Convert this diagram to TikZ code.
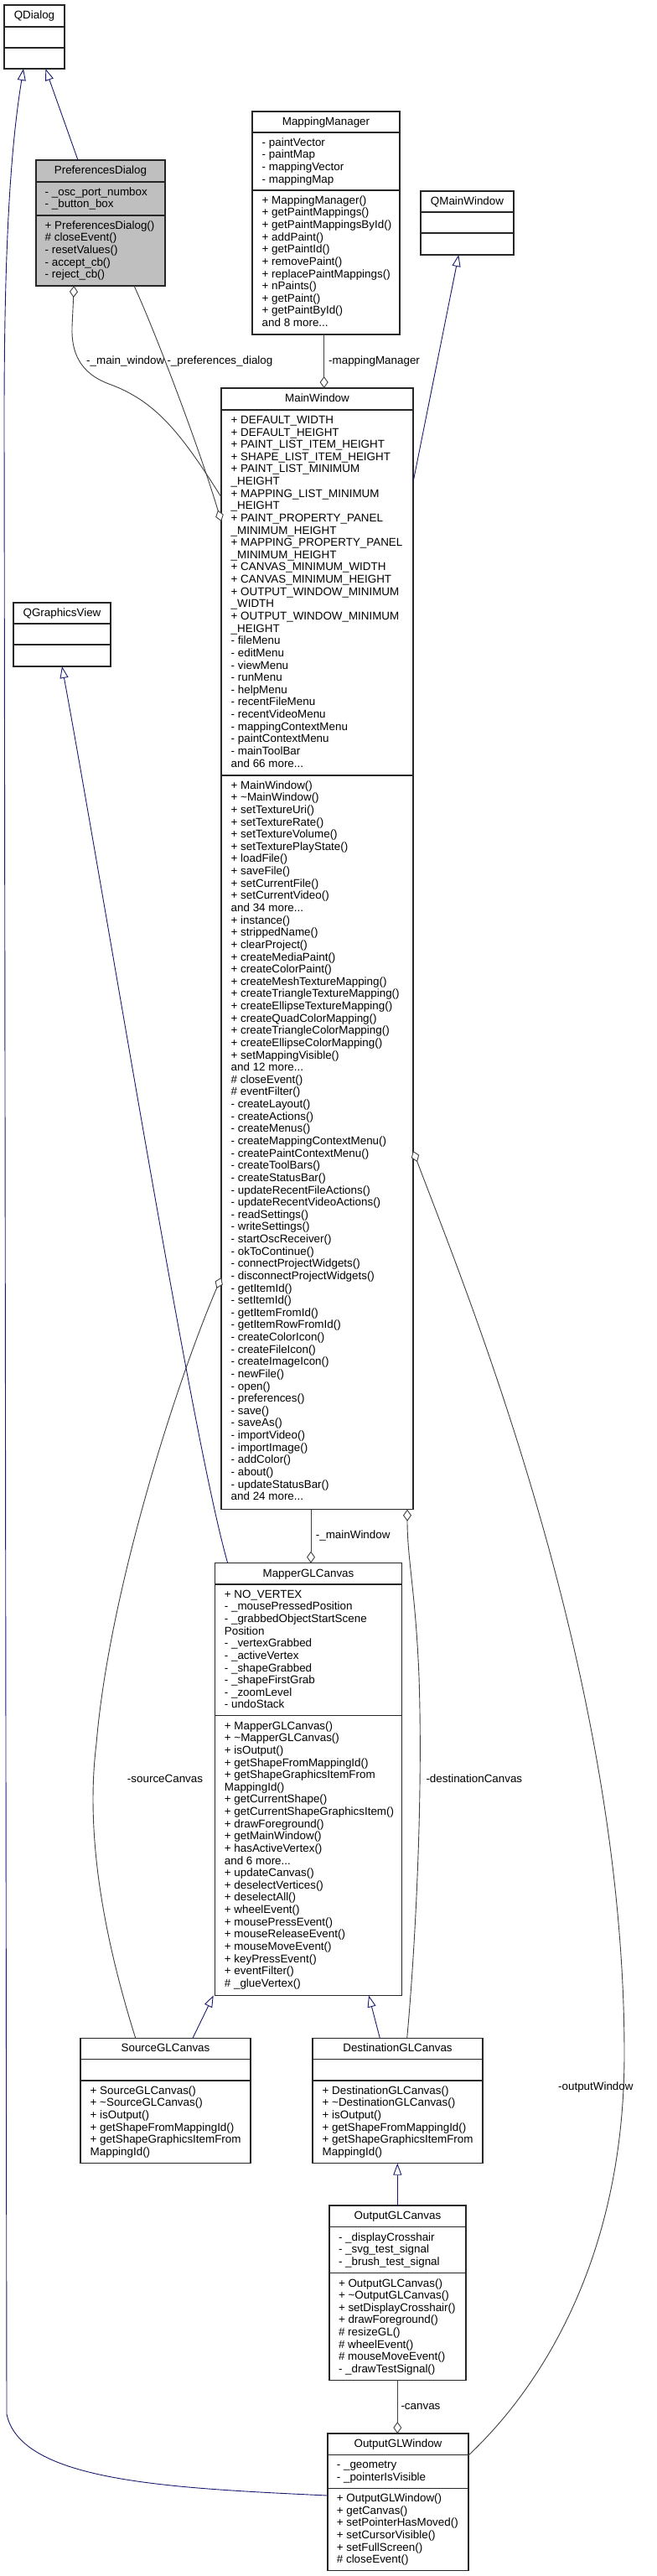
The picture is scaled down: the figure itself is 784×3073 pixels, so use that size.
\documentclass[tikz,border=0pt]{standalone}
\usepackage{fontspec}
\setmainfont{Liberation Sans}
\usetikzlibrary{arrows.meta,calc}
\definecolor{inhblue}{HTML}{191970}
\definecolor{agggray}{HTML}{404040}
\definecolor{boxgray}{HTML}{BFBFBF}
\definecolor{boxline}{HTML}{262626}
\newcommand\fs{\fontsize{13.4}{14.63}\selectfont}
\newcommand\lns[1]{\begin{tabular}[t]{@{}l@{}}#1\end{tabular}}
\newcommand\tl{\textasciitilde}
\tikzset{
  cls/.style={draw=boxline, line width=1.1pt, inner sep=0pt, outer sep=0pt, anchor=north west, fill=white},
  sepl/.style={draw=boxline, line width=1.1pt},
  ttl/.style={anchor=base, inner sep=0pt, font=\fs},
  txt/.style={anchor=base west, inner sep=0pt, font=\fs},
  lbl/.style={anchor=west, inner sep=0pt, font=\fs},
  lblr/.style={anchor=east, inner sep=0pt, font=\fs},
  inh/.style={draw=inhblue, line width=0.9pt, -{Triangle[length=14pt,width=10pt,fill=white,line width=0.9pt]}},
  agg/.style={draw=agggray, line width=0.9pt, -{Diamond[length=14pt,width=10pt,fill=white,line width=0.9pt]}},
}
\begin{document}
\begin{tikzpicture}[x=1pt,y=-1pt]
\useasboundingbox (0,0) rectangle (784,3073);

% ---------- QDialog
\node[cls, minimum width=72pt, minimum height=76pt] (qd) at (5,6) {};
\draw[sepl] ($(qd.north west)+(0,26)$) -- ($(qd.north east)+(0,26)$);
\draw[sepl] ($(qd.north west)+(0,51)$) -- ($(qd.north east)+(0,51)$);
\node[ttl] (qd-t) at ($(qd.north)+(0,16.5)$) {QDialog};

% ---------- PreferencesDialog
\node[cls, fill=boxgray, minimum width=154pt, minimum height=150pt] (pd) at (43,191) {};
\draw[sepl] ($(pd.north west)+(0,26)$) -- ($(pd.north east)+(0,26)$);
\draw[sepl] ($(pd.north west)+(0,66)$) -- ($(pd.north east)+(0,66)$);
\node[ttl] (pd-t) at ($(pd.north)+(0,16.5)$) {PreferencesDialog};
\node[txt] (pd-a) at ($(pd.north west)+(10.5,42.3)$) {\lns{- \_osc\_port\_numbox\\- \_button\_box}};
\node[txt] (pd-m) at ($(pd.north west)+(10.5,82.3)$) {\lns{+ PreferencesDialog()\\\# closeEvent()\\- resetValues()\\- accept\_cb()\\- reject\_cb()}};

% ---------- MappingManager
\node[cls, minimum width=176pt, minimum height=266pt] (mm) at (301,133) {};
\draw[sepl] ($(mm.north west)+(0,25)$) -- ($(mm.north east)+(0,25)$);
\draw[sepl] ($(mm.north west)+(0,94)$) -- ($(mm.north east)+(0,94)$);
\node[ttl] (mm-t) at ($(mm.north)+(0,16.4)$) {MappingManager};
\node[txt] (mm-a) at ($(mm.north west)+(11.5,41.3)$) {\lns{- paintVector\\- paintMap\\- mappingVector\\- mappingMap}};
\node[txt] (mm-m) at ($(mm.north west)+(11.5,110.3)$) {\lns{+ MappingManager()\\+ getPaintMappings()\\+ getPaintMappingsById()\\+ addPaint()\\+ getPaintId()\\+ removePaint()\\+ replacePaintMappings()\\+ nPaints()\\+ getPaint()\\+ getPaintById()\\and 8 more...}};

% ---------- QMainWindow
\node[cls, minimum width=111pt, minimum height=76pt] (qmw) at (502,228) {};
\draw[sepl] ($(qmw.north west)+(0,25)$) -- ($(qmw.north east)+(0,25)$);
\draw[sepl] ($(qmw.north west)+(0,50)$) -- ($(qmw.north east)+(0,50)$);
\node[ttl] (qmw-t) at ($(qmw.north)+(0,16.4)$) {QMainWindow};

% ---------- QGraphicsView
\node[cls, minimum width=116pt, minimum height=76pt] (qgv) at (16,719) {};
\draw[sepl] ($(qgv.north west)+(0,25)$) -- ($(qgv.north east)+(0,25)$);
\draw[sepl] ($(qgv.north west)+(0,50)$) -- ($(qgv.north east)+(0,50)$);
\node[ttl] (qgv-t) at ($(qgv.north)+(0,16.4)$) {QGraphicsView};

% ---------- MainWindow
\node[cls, minimum width=229pt, minimum height=1337.7pt] (mw) at (264,463) {};
\draw[sepl] ($(mw.north west)+(0,26)$) -- ($(mw.north east)+(0,26)$);
\draw[sepl] ($(mw.north west)+(0,462)$) -- ($(mw.north east)+(0,462)$);
\node[ttl] (mw-t) at ($(mw.north)+(0,16.2)$) {MainWindow};
\node[txt] (mw-a) at ($(mw.north west)+(11.5,42.4)$) {\lns{%
+ DEFAULT\_WIDTH\\+ DEFAULT\_HEIGHT\\+ PAINT\_LIST\_ITEM\_HEIGHT\\+ SHAPE\_LIST\_ITEM\_HEIGHT\\%
+ PAINT\_LIST\_MINIMUM\\\_HEIGHT\\+ MAPPING\_LIST\_MINIMUM\\\_HEIGHT\\%
+ PAINT\_PROPERTY\_PANEL\\\_MINIMUM\_HEIGHT\\+ MAPPING\_PROPERTY\_PANEL\\\_MINIMUM\_HEIGHT\\%
+ CANVAS\_MINIMUM\_WIDTH\\+ CANVAS\_MINIMUM\_HEIGHT\\+ OUTPUT\_WINDOW\_MINIMUM\\\_WIDTH\\%
+ OUTPUT\_WINDOW\_MINIMUM\\\_HEIGHT\\- fileMenu\\- editMenu\\- viewMenu\\- runMenu\\- helpMenu\\%
- recentFileMenu\\- recentVideoMenu\\- mappingContextMenu\\- paintContextMenu\\- mainToolBar\\and 66 more...}};
\node[txt] (mw-m) at ($(mw.north west)+(11.5,478.2)$) {\lns{%
+ MainWindow()\\+ \tl MainWindow()\\+ setTextureUri()\\+ setTextureRate()\\+ setTextureVolume()\\%
+ setTexturePlayState()\\+ loadFile()\\+ saveFile()\\+ setCurrentFile()\\+ setCurrentVideo()\\and 34 more...\\%
+ instance()\\+ strippedName()\\+ clearProject()\\+ createMediaPaint()\\+ createColorPaint()\\%
+ createMeshTextureMapping()\\+ createTriangleTextureMapping()\\+ createEllipseTextureMapping()\\%
+ createQuadColorMapping()\\+ createTriangleColorMapping()\\+ createEllipseColorMapping()\\%
+ setMappingVisible()\\and 12 more...\\\# closeEvent()\\\# eventFilter()\\- createLayout()\\%
- createActions()\\- createMenus()\\- createMappingContextMenu()\\- createPaintContextMenu()\\%
- createToolBars()\\- createStatusBar()\\- updateRecentFileActions()\\- updateRecentVideoActions()\\%
- readSettings()\\- writeSettings()\\- startOscReceiver()\\- okToContinue()\\- connectProjectWidgets()\\%
- disconnectProjectWidgets()\\- getItemId()\\- setItemId()\\- getItemFromId()\\- getItemRowFromId()\\%
- createColorIcon()\\- createFileIcon()\\- createImageIcon()\\- newFile()\\- open()\\- preferences()\\%
- save()\\- saveAs()\\- importVideo()\\- importImage()\\- addColor()\\- about()\\- updateStatusBar()\\and 24 more...}};

% ---------- MapperGLCanvas
\node[cls, minimum width=222.6pt, minimum height=515.8pt] (mgc) at (256.7,1864.6) {};
\draw[sepl] ($(mgc.north west)+(0,25.4)$) -- ($(mgc.north east)+(0,25.4)$);
\draw[sepl] ($(mgc.north west)+(0,182.2)$) -- ($(mgc.north east)+(0,182.2)$);
\node[ttl] (mgc-t) at ($(mgc.north)+(0,16.6)$) {MapperGLCanvas};
\node[txt] (mgc-a) at ($(mgc.north west)+(11,41.7)$) {\lns{%
+ NO\_VERTEX\\- \_mousePressedPosition\\- \_grabbedObjectStartScene\\Position\\- \_vertexGrabbed\\%
- \_activeVertex\\- \_shapeGrabbed\\- \_shapeFirstGrab\\- \_zoomLevel\\- undoStack}};
\node[txt] (mgc-m) at ($(mgc.north west)+(11,198.5)$) {\lns{%
+ MapperGLCanvas()\\+ \tl MapperGLCanvas()\\+ isOutput()\\+ getShapeFromMappingId()\\%
+ getShapeGraphicsItemFrom\\MappingId()\\+ getCurrentShape()\\+ getCurrentShapeGraphicsItem()\\%
+ drawForeground()\\+ getMainWindow()\\+ hasActiveVertex()\\and 6 more...\\+ updateCanvas()\\%
+ deselectVertices()\\+ deselectAll()\\+ wheelEvent()\\+ mousePressEvent()\\+ mouseReleaseEvent()\\%
+ mouseMoveEvent()\\+ keyPressEvent()\\+ eventFilter()\\\# \_glueVertex()}};

% ---------- SourceGLCanvas
\node[cls, minimum width=203pt, minimum height=149.4pt] (sgc) at (96,2431.3) {};
\draw[sepl] ($(sgc.north west)+(0,25.4)$) -- ($(sgc.north east)+(0,25.4)$);
\draw[sepl] ($(sgc.north west)+(0,50.7)$) -- ($(sgc.north east)+(0,50.7)$);
\node[ttl] (sgc-t) at ($(sgc.north)+(0,16.4)$) {SourceGLCanvas};
\node[txt] (sgc-m) at ($(sgc.north west)+(11.5,67)$) {\lns{%
+ SourceGLCanvas()\\+ \tl SourceGLCanvas()\\+ isOutput()\\+ getShapeFromMappingId()\\%
+ getShapeGraphicsItemFrom\\MappingId()}};

% ---------- DestinationGLCanvas
\node[cls, minimum width=203pt, minimum height=149.4pt] (dgc) at (373,2431.3) {};
\draw[sepl] ($(dgc.north west)+(0,25.4)$) -- ($(dgc.north east)+(0,25.4)$);
\draw[sepl] ($(dgc.north west)+(0,50.7)$) -- ($(dgc.north east)+(0,50.7)$);
\node[ttl] (dgc-t) at ($(dgc.north)+(0,16.4)$) {DestinationGLCanvas};
\node[txt] (dgc-m) at ($(dgc.north west)+(11.5,67)$) {\lns{%
+ DestinationGLCanvas()\\+ \tl DestinationGLCanvas()\\+ isOutput()\\+ getShapeFromMappingId()\\%
+ getShapeGraphicsItemFrom\\MappingId()}};

% ---------- OutputGLCanvas
\node[cls, minimum width=163pt, minimum height=208.3pt] (ogc) at (393,2631) {};
\draw[sepl] ($(ogc.north west)+(0,25.7)$) -- ($(ogc.north east)+(0,25.7)$);
\draw[sepl] ($(ogc.north west)+(0,80.7)$) -- ($(ogc.north east)+(0,80.7)$);
\node[ttl] (ogc-t) at ($(ogc.north)+(0,16.4)$) {OutputGLCanvas};
\node[txt] (ogc-a) at ($(ogc.north west)+(10.8,42)$) {\lns{- \_displayCrosshair\\- \_svg\_test\_signal\\- \_brush\_test\_signal}};
\node[txt] (ogc-m) at ($(ogc.north west)+(10.8,97)$) {\lns{%
+ OutputGLCanvas()\\+ \tl OutputGLCanvas()\\+ setDisplayCrosshair()\\+ drawForeground()\\%
\# resizeGL()\\\# wheelEvent()\\\# mouseMoveEvent()\\- \_drawTestSignal()}};

% ---------- OutputGLWindow
\node[cls, minimum width=168pt, minimum height=163.7pt] (ow) at (391,2903) {};
\draw[sepl] ($(ow.north west)+(0,25.3)$) -- ($(ow.north east)+(0,25.3)$);
\draw[sepl] ($(ow.north west)+(0,65.3)$) -- ($(ow.north east)+(0,65.3)$);
\node[ttl] (ow-t) at ($(ow.north)+(0,16.4)$) {OutputGLWindow};
\node[txt] (ow-a) at ($(ow.north west)+(10.7,41.6)$) {\lns{- \_geometry\\- \_pointerIsVisible}};
\node[txt] (ow-m) at ($(ow.north west)+(10.7,81.6)$) {\lns{%
+ OutputGLWindow()\\+ getCanvas()\\+ setPointerHasMoved()\\+ setCursorVisible()\\+ setFullScreen()\\\# closeEvent()}};

% ================= connectors
% inheritance
\draw[inh] ($(pd.north west)+(50,0)$) -- ($(qd.south west)+(49.3,0)$);
\draw[inh] ($(ow.north west)+(0,74)$) .. controls (200,2968) and (25,2960) .. (8,2880)
   -- (5,500) .. controls (5,300) and (12,180) .. ($(qd.south west)+(23,0)$);
\draw[inh] ($(mw.north east)+(0,112)$) -- ($(qmw.south west)+(45.3,0)$);
\draw[inh] ($(mgc.north west)+(15,0)$) .. controls (230,1720) and (130,1100) .. ($(qgv.south west)+(58,0)$);
\draw[inh] ($(sgc.north west)+(134,0)$) -- ($(mgc.south west)+(-2,0)$);
\draw[inh] ($(dgc.north west)+(80.3,0)$) -- ($(mgc.south west)+(183.3,0)$);
\draw[inh] ($(ogc.north west)+(81.3,0)$) -- ($(dgc.south west)+(101.3,0)$);

% aggregation
\draw[agg] ($(mm.south west)+(85.7,0)$) -- ($(mw.north west)+(122.7,0)$);
\node[lbl] (l-mm) at (392,430.7) {-mappingManager};

\draw[agg] ($(mw.north west)+(0,130)$) .. controls (215,515) and (185,478) .. (130,458)
   .. controls (95,445) and (85,420) .. (86,390) -- ($(pd.south west)+(45.3,0)$);
\node[lbl] (l-mwin) at (103,431) {-\_main\_window};

\draw[agg] ($(pd.south west)+(117,0)$) .. controls (185,395) and (238,535) .. ($(mw.north west)+(0,159)$);
\node[lbl] (l-pref) at (199.3,431) {-\_preferences\_dialog};

\draw[agg] ($(mw.south west)+(107,0)$) -- ($(mgc.north west)+(114.3,0)$);
\node[lbl] (l-mainw) at (376.7,1831.8) {-\_mainWindow};

\draw[agg] ($(dgc.north west)+(112.7,0)$) .. controls (495,2330) and (505,2150) .. (500,2000)
   .. controls (496,1900) and (486,1860) .. ($(mw.south west)+(222,0)$);
\node[lbl] (l-dest) at (508.3,2122) {-destinationCanvas};

\draw[agg] ($(sgc.north west)+(65.7,0)$) .. controls (130,2330) and (100,2200) .. (115,2080)
   .. controls (130,1900) and (210,1650) .. ($(mw.north west)+(0,1061)$);
\node[lblr] (l-src) at (242.3,2122) {-sourceCanvas};

\draw[agg] ($(ow.north east)+(0,26)$) .. controls (640,2853) and (745,2700) .. (745,2450)
   .. controls (745,2000) and (560,1550) .. ($(mw.north east)+(0,910)$);
\node[lbl] (l-ow) at (666,2490) {-outputWindow};

\draw[agg] ($(ogc.south west)+(81.3,0)$) -- ($(ow.north west)+(83.3,0)$);
\node[lbl] (l-canvas) at (478.3,2870.7) {-canvas};
\end{tikzpicture}
\end{document}
